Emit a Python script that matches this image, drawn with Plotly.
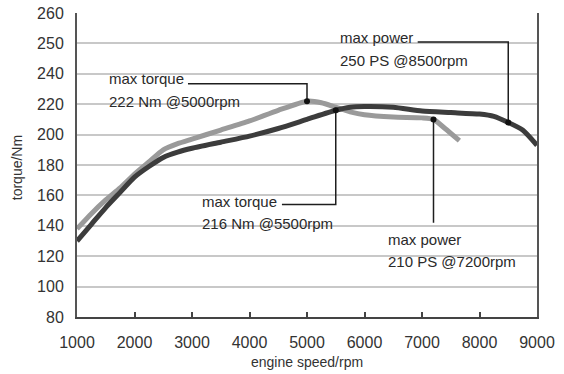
import plotly.graph_objects as go

# ---- data ----
rpm_a = [1000, 1250, 1500, 1750, 2000, 2250, 2500, 2750, 3000, 3500, 4000, 4500,
         5000, 5250, 5500, 5750, 6000, 6500, 7000, 7200, 7400, 7650]
torque_a = [138, 148, 157, 165, 174, 182, 190, 194, 197, 203, 209, 216,
            222, 221, 218, 215, 213, 211.5, 211, 210, 204, 196]

rpm_b = [1000, 1250, 1500, 1750, 2000, 2250, 2500, 2750, 3000, 3500, 4000, 4500,
         5000, 5500, 5750, 6000, 6500, 7000, 7500, 8000, 8250, 8500, 8750, 9000]
torque_b = [130, 141, 152, 162, 172, 179, 185, 188.5, 191, 195, 199, 204,
            210, 216, 218, 218.5, 218, 215.5, 214.5, 213.5, 212, 208, 203, 193]

x_ticks = [1000, 2000, 3000, 4000, 5000, 6000, 7000, 8000, 9000]
y_tickvals = [80, 100, 120, 140, 160, 180, 200, 220, 240, 260, 280]
y_ticktext = ["80", "100", "120", "140", "160", "180", "200", "220", "240", "250", "260"]

x_title = "engine speed/rpm"
y_title = "torque/Nm"

# callouts: marked point (rpm, Nm), text lines, text anchor, leader geometry
callout_pts = [(5000, 222), (8500, 208), (5500, 216), (7200, 210)]
callout_line1 = ["max torque", "max power", "max torque", "max power"]
callout_line2 = ["222 Nm @5000rpm", "250 PS @8500rpm", "216 Nm @5500rpm", "210 PS @7200rpm"]
text_x = [1515, 5546, 3138, 6366]
text_y1 = [236.7, 263.6, 156.3, 131.1]
text_y2 = [221.6, 248.5, 141.8, 116.3]
leader_start_x = [2930, 6925, 4564, None]
leader_level = [233.4, 261, 154, 142]

fig = go.Figure()

fig.add_trace(go.Scatter(x=rpm_a, y=torque_a, mode="lines",
                         line=dict(color="#9a9a9a", width=5, shape="spline", smoothing=0.6),
                         hoverinfo="skip", showlegend=False))
fig.add_trace(go.Scatter(x=rpm_b, y=torque_b, mode="lines",
                         line=dict(color="#3c3c3c", width=5, shape="spline", smoothing=0.6),
                         hoverinfo="skip", showlegend=False))

# leader lines
for (px, py), sx, lv in zip(callout_pts, leader_start_x, leader_level):
    if sx is not None:
        xs = [sx, px, px]
        ys = [lv, lv, py]
    else:
        xs = [px, px]
        ys = [py, lv]
    fig.add_trace(go.Scatter(x=xs, y=ys, mode="lines",
                             line=dict(color="#1e1e1e", width=1.5),
                             hoverinfo="skip", showlegend=False))

fig.add_trace(go.Scatter(x=[p[0] for p in callout_pts], y=[p[1] for p in callout_pts],
                         mode="markers", marker=dict(color="#111111", size=6),
                         hoverinfo="skip", showlegend=False))

font_txt = dict(family="Liberation Sans, Arial, sans-serif", size=15, color="#2a2a2a")
for tx, y1, y2, l1, l2 in zip(text_x, text_y1, text_y2, callout_line1, callout_line2):
    fig.add_annotation(x=tx, y=y1, text=l1, showarrow=False, xanchor="left",
                       yanchor="middle", font=font_txt)
    fig.add_annotation(x=tx, y=y2, text=l2, showarrow=False, xanchor="left",
                       yanchor="middle", font=font_txt)

# axis titles
fig.add_annotation(x=-0.13, y=0.49, xref="paper", yref="paper", text=y_title,
                   textangle=-90, showarrow=False, xanchor="center", yanchor="middle",
                   font=dict(family="Liberation Sans, Arial, sans-serif", size=14, color="#333333"))
fig.add_annotation(x=0.50, y=-0.148, xref="paper", yref="paper", text=x_title,
                   showarrow=False, xanchor="center", yanchor="middle",
                   font=dict(family="Liberation Sans, Arial, sans-serif", size=14, color="#333333"))

fig.update_layout(
    width=564, height=374,
    margin=dict(l=77, r=27, t=13, b=57),
    paper_bgcolor="white", plot_bgcolor="white",
    font=dict(family="Liberation Sans, Arial, sans-serif", color="#333333"),
    xaxis=dict(range=[1000, 9000], tickvals=x_ticks, ticktext=[str(v) for v in x_ticks],
               showgrid=False, zeroline=False, showline=True, linecolor="#444444",
               linewidth=2, ticks="inside", ticklen=5, tickwidth=1.5, tickcolor="#444444",
               tickfont=dict(size=16, color="#333333"), ticklabelstandoff=10,
               automargin=False),
    yaxis=dict(range=[80, 280], tickvals=y_tickvals, ticktext=y_ticktext,
               showgrid=True, gridcolor="#c8c8c8", gridwidth=1.5, zeroline=False,
               showline=True, linecolor="#555555", linewidth=2, mirror=True,
               ticks="", tickfont=dict(size=16, color="#333333"), ticklabelstandoff=8,
               automargin=False),
)

fig.write_html("out.html", config={"displayModeBar": False},
               post_script="document.body.style.margin='0';document.body.style.overflow='hidden';")
